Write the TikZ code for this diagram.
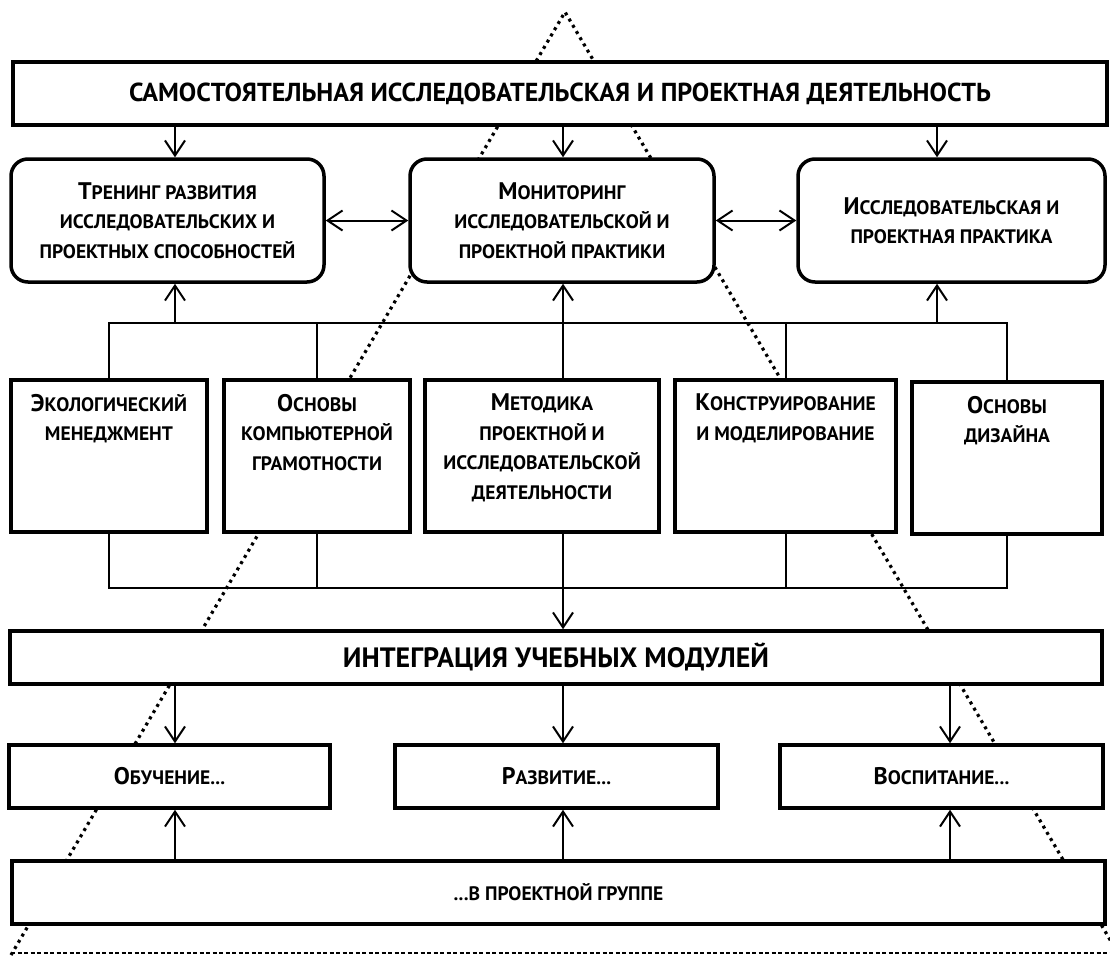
\documentclass[tikz,border=0pt]{standalone}
\usepackage{fontspec}
\setmainfont{PT Sans}
\usetikzlibrary{arrows.meta}
\newcommand{\titleFont}{\fontsize{28}{30}\selectfont\bfseries}
\newcommand{\headFont}{\fontsize{26}{30}\selectfont\bfseries}
\newcommand{\smallCapsFont}{\fontsize{19.5}{29.5}\selectfont\bfseries}
\newcommand{\bigLetter}[1]{{\fontsize{24}{24}\selectfont #1}}
\newcommand{\moduleText}[2]{\parbox[c][124pt][t]{#1pt}{\centering #2}}
\tikzset{openBarb/.tip={Straight Barb[length=15pt, width=20pt]}}
\tikzstyle{pixelGrid} = [x = 1pt, y = -1pt]
\tikzstyle{plainBox} = [draw, fill=white, line width=3.5pt, inner sep=0pt, align=center, font=\smallCapsFont]
\tikzstyle{titleBox} = [plainBox, font=\titleFont]
\tikzstyle{roundBox} = [plainBox, rounded corners=17pt, minimum height=123pt]
\tikzstyle{moduleBox} = [plainBox, inner ysep=14pt, minimum height=152pt]
\tikzstyle{rowBox} = [plainBox, minimum height=63pt]
\tikzstyle{plainLine} = [line width=2pt]
\tikzstyle{arrowLine} = [plainLine, -{openBarb}]
\tikzstyle{doubleLine} = [plainLine, {openBarb}-{openBarb}]
\tikzstyle{pyramidLine} = [line width=3.2pt, dash pattern=on 3pt off 4.2pt]
\tikzstyle{baseLine} = [line width=1.2pt, dash pattern=on 4pt off 2.5pt]

\begin{document}
\begin{tikzpicture}[pixelGrid]
  \useasboundingbox (0,0) rectangle (1110,956);
  \begin{scope}
    \clip (0,0) rectangle (1110,956);
    \draw [pyramidLine] (11,955) -- (565,12) -- (1119,955);
  \end{scope}
  \draw [baseLine] (11,953) -- (1110,953);

  \node [titleBox, font=\headFont, minimum width=1094pt, minimum height=63pt] (activity) at (560,93.5) {САМОСТОЯТЕЛЬНАЯ ИССЛЕДОВАТЕЛЬСКАЯ И ПРОЕКТНАЯ ДЕЯТЕЛЬНОСТЬ};

  \node [roundBox, minimum width=313pt] (training) at (167.5,220.5) {\bigLetter{Т}РЕНИНГ РАЗВИТИЯ\\ИССЛЕДОВАТЕЛЬСКИХ И\\ПРОЕКТНЫХ СПОСОБНОСТЕЙ};
  \node [roundBox, minimum width=304pt] (monitoring) at (562,220.5) {\bigLetter{М}ОНИТОРИНГ\\ИССЛЕДОВАТЕЛЬСКОЙ И\\ПРОЕКТНОЙ ПРАКТИКИ};
  \node [roundBox, minimum width=307pt] (practice) at (951.5,220.5) {\bigLetter{И}ССЛЕДОВАТЕЛЬСКАЯ И\\ПРОЕКТНАЯ ПРАКТИКА};

  \node [moduleBox] (ecology) at (109,456) {\moduleText{196}{\bigLetter{Э}КОЛОГИЧЕСКИЙ\\МЕНЕДЖМЕНТ}};
  \node [moduleBox] (computing) at (317,456) {\moduleText{186}{\bigLetter{О}СНОВЫ\\КОМПЬЮТЕРНОЙ\\ГРАМОТНОСТИ}};
  \node [moduleBox] (methodology) at (542,456) {\moduleText{234}{\bigLetter{М}ЕТОДИКА\\ПРОЕКТНОЙ И\\ИССЛЕДОВАТЕЛЬСКОЙ\\ДЕЯТЕЛЬНОСТИ}};
  \node [moduleBox] (construct) at (785.5,456) {\moduleText{221}{\bigLetter{К}ОНСТРУИРОВАНИЕ\\И МОДЕЛИРОВАНИЕ}};
  \node [moduleBox] (design) at (1007,458) {\moduleText{190}{\bigLetter{О}СНОВЫ\\ДИЗАЙНА}};

  \node [titleBox, minimum width=1092pt, minimum height=53pt] (integration) at (556,657.5) {ИНТЕГРАЦИЯ УЧЕБНЫХ МОДУЛЕЙ};

  \node [rowBox, minimum width=321pt] (learning) at (169.5,776.5) {\bigLetter{О}БУЧЕНИЕ...};
  \node [rowBox, minimum width=323pt] (developing) at (556.5,776.5) {\bigLetter{Р}АЗВИТИЕ...};
  \node [rowBox, minimum width=323pt] (upbringing) at (941.5,776.5) {\bigLetter{В}ОСПИТАНИЕ...};

  \node [rowBox, minimum width=1093pt] (group) at (558.5,892.5) {...В ПРОЕКТНОЙ ГРУППЕ};

  \coordinate (leftCol) at (175,0);
  \coordinate (midCol) at (563,0);
  \coordinate (rightCol) at (937,0);
  \coordinate (farCol) at (950,0);
  \coordinate (upperBus) at (0,323);
  \coordinate (lowerBus) at (0,588);

  \draw [arrowLine] (activity.south -| leftCol) -- (training.north -| leftCol);
  \draw [arrowLine] (activity.south -| midCol) -- (monitoring.north -| midCol);
  \draw [arrowLine] (activity.south -| rightCol) -- (practice.north -| rightCol);
  \draw [doubleLine] (training.east) -- (monitoring.west);
  \draw [doubleLine] (monitoring.east) -- (practice.west);

  \draw [plainLine] (ecology.north) |- (upperBus -| design.north) -- (design.north);
  \draw [plainLine] (computing.north) -- (computing.north |- upperBus);
  \draw [plainLine] (construct.north) -- (construct.north |- upperBus);
  \draw [arrowLine] (upperBus -| leftCol) -- (training.south -| leftCol);
  \draw [arrowLine] (methodology.north -| midCol) -- (monitoring.south -| midCol);
  \draw [arrowLine] (upperBus -| rightCol) -- (practice.south -| rightCol);

  \draw [plainLine] (ecology.south) |- (lowerBus -| design.south) -- (design.south);
  \draw [plainLine] (computing.south) -- (computing.south |- lowerBus);
  \draw [plainLine] (construct.south) -- (construct.south |- lowerBus);
  \draw [arrowLine] (methodology.south -| midCol) -- (integration.north -| midCol);

  \draw [arrowLine] (integration.south -| leftCol) -- (learning.north -| leftCol);
  \draw [arrowLine] (integration.south -| midCol) -- (developing.north -| midCol);
  \draw [arrowLine] (integration.south -| farCol) -- (upbringing.north -| farCol);
  \draw [arrowLine] (group.north -| leftCol) -- (learning.south -| leftCol);
  \draw [arrowLine] (group.north -| midCol) -- (developing.south -| midCol);
  \draw [arrowLine] (group.north -| farCol) -- (upbringing.south -| farCol);
\end{tikzpicture}
\end{document}
